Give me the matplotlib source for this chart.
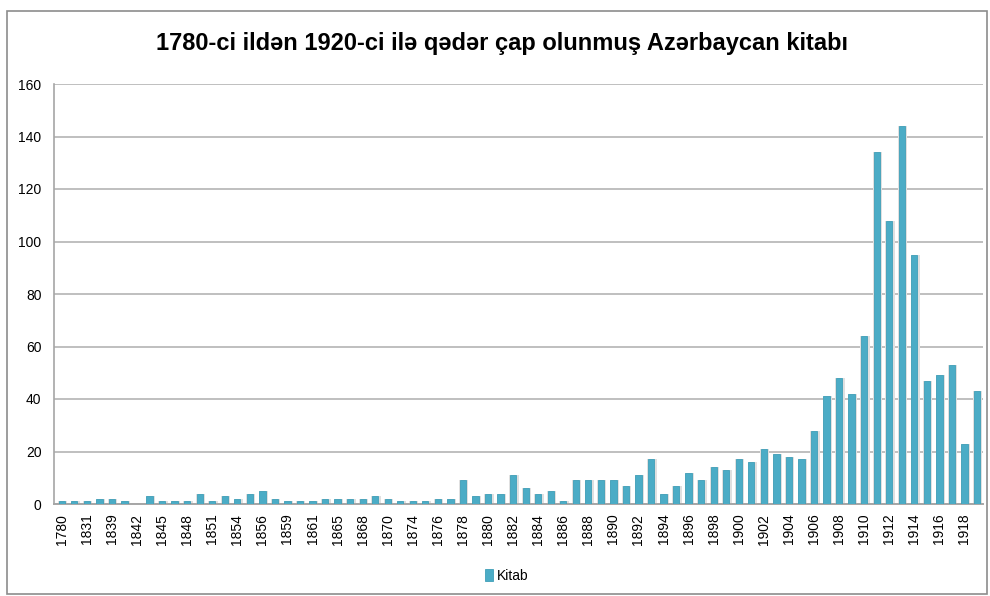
import matplotlib.pyplot as plt
from matplotlib.patches import Rectangle
import numpy as np

# Data (one bar per year that had printed books)
years = ['1780', '1828', '1831', '1832', '1839', '1840', '1842', '1843', '1845', '1846',
         '1848', '1849', '1851', '1852', '1854', '1855', '1856', '1857', '1859', '1860',
         '1861', '1862', '1865', '1866', '1868', '1869', '1870', '1871', '1874', '1875',
         '1876', '1877', '1878', '1879', '1880', '1881', '1882', '1883', '1884', '1885',
         '1886', '1887', '1888', '1889', '1890', '1891', '1892', '1893', '1894', '1895',
         '1896', '1897', '1898', '1899', '1900', '1901', '1902', '1903', '1904', '1905',
         '1906', '1907', '1908', '1909', '1910', '1911', '1912', '1913', '1914', '1915',
         '1916', '1917', '1918', '1919']
kitab = [1, 1, 1, 2, 2, 1, 0, 3, 1, 1,
         1, 4, 1, 3, 2, 4, 5, 2, 1, 1,
         1, 2, 2, 2, 2, 3, 2, 1, 1, 1,
         2, 2, 9, 3, 4, 4, 11, 6, 4, 5,
         1, 9, 9, 9, 9, 7, 11, 17, 4, 7,
         12, 9, 14, 13, 17, 16, 21, 19, 18, 17,
         28, 41, 48, 42, 64, 134, 108, 144, 95, 47,
         49, 53, 23, 43]
y_ticks = [0, 20, 40, 60, 80, 100, 120, 140, 160]

TITLE = '1780-ci ildən 1920-ci ilə qədər çap olunmuş Azərbaycan kitabı'
BAR_COLOR = '#4bacc6'

plt.rcParams['font.family'] = ['Liberation Sans', 'DejaVu Sans']

fig = plt.figure(figsize=(9.9, 5.96), dpi=100)
ax = fig.add_axes([54 / 990, 1 - 504 / 596, (983 - 54) / 990, (504 - 84) / 596])

x = np.arange(len(years))

# soft grey halo behind each bar, like the Excel shadow effect
ax.bar(x + 0.07, kitab, width=0.74, color='#e0e0e0', zorder=2)
ax.bar(x, kitab, width=0.5, color=BAR_COLOR, edgecolor='#3f9fb8',
       linewidth=0.6, zorder=3, label='Kitab')

ax.set_ylim(0, 160)
ax.set_xlim(-0.62, len(years) - 0.52)
ax.set_yticks(y_ticks)
ax.set_xticks(x[::2])
ax.set_xticklabels(years[::2], rotation=90, fontsize=10)
ax.tick_params(axis='y', labelsize=10, length=0, pad=9)
ax.tick_params(axis='x', length=0, pad=7)

ax.yaxis.grid(True, color='#bfbfbf', linewidth=1.4, zorder=0)
ax.set_axisbelow(True)
for side in ['top', 'right']:
    ax.spines[side].set_visible(False)
ax.spines['left'].set_color('#a6a6a6')
ax.spines['bottom'].set_color('#a6a6a6')
ax.spines['left'].set_linewidth(1.2)
ax.spines['bottom'].set_linewidth(1.4)

fig.text(0.507, 0.927, TITLE, ha='center', va='center', fontsize=17,
         fontweight='bold')

fig.legend(loc='center', bbox_to_anchor=(0.512, 0.034), frameon=False,
           fontsize=10, handlelength=0.6, handleheight=0.9, handletextpad=0.3)

# chart frame
fig.patches.append(Rectangle((7 / 990, 2 / 596), 980 / 990, 583 / 596,
                             transform=fig.transFigure, fill=False,
                             edgecolor='#8c8c8c', linewidth=1.2))

fig.savefig('out.png', dpi=100)
